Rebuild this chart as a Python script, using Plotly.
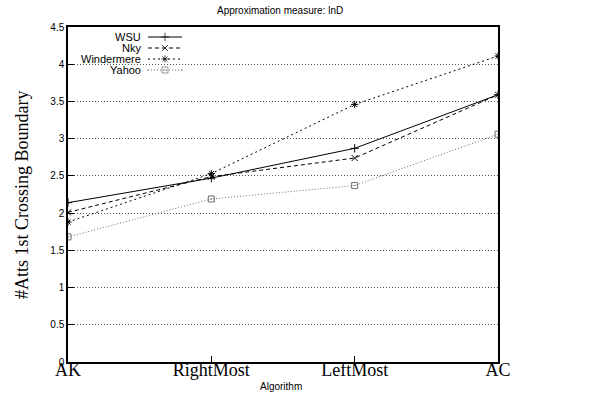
import plotly.graph_objects as go

algorithms = ["AK", "RightMost", "LeftMost", "AC"]
x_pos = [0, 1, 2, 3]
wsu = [2.14, 2.47, 2.87, 3.59]
nky = [2.01, 2.49, 2.74, 3.59]
windermere = [1.88, 2.53, 3.46, 4.11]
yahoo = [1.68, 2.19, 2.37, 3.06]
y_ticks = [0, 0.5, 1, 1.5, 2, 2.5, 3, 3.5, 4, 4.5]
y_tick_text = ["0", "0.5", "1", "1.5", "2", "2.5", "3", "3.5", "4", "4.5"]
series_names = ["WSU", "Nky", "Windermere", "Yahoo"]

# plot area in pixels
W, H = 590, 398
L, R, T, B = 68, 498, 27, 362
PW, PH = R - L, B - T


def px_x(px):
    return (px - L) / PW


def px_y(py):
    return (B - py) / PH


styles = [
    ("black", "solid", "cross-thin-open"),
    ("black", "4px,3px", "x-thin-open"),
    ("black", "2px,3px", "asterisk-open"),
    ("#6e6e6e", "1px,2px", "square-open-dot"),
]
values = [wsu, nky, windermere, yahoo]

fig = go.Figure()
for name, vals, (color, dash, sym) in zip(series_names, values, styles):
    fig.add_trace(go.Scatter(
        x=x_pos, y=vals, name=name, mode="lines+markers", showlegend=False,
        line=dict(color=color, width=1, dash=dash),
        marker=dict(symbol=sym, size=6, color=color, line=dict(color=color, width=1)),
    ))

# custom gnuplot-style key (text right-aligned, sample to the right)
row_py = [37, 48, 59, 70]
annotations = []
for i, (name, (color, dash, sym)) in enumerate(zip(series_names, styles)):
    yy = px_y(row_py[i])
    fig.add_trace(go.Scatter(
        x=[px_x(148), px_x(165), px_x(182)], y=[yy, yy, yy],
        xaxis="x2", yaxis="y2", mode="lines+markers", showlegend=False, hoverinfo="skip",
        line=dict(color=color, width=1, dash=dash),
        marker=dict(symbol=sym, size=[0, 6, 0], color=color, line=dict(color=color, width=1)),
    ))
    annotations.append(dict(
        text=name, xref="paper", yref="paper", x=px_x(143), y=yy,
        xanchor="right", yanchor="middle", showarrow=False,
        font=dict(family="Liberation Sans, Arial", size=11, color="black"),
    ))

annotations.append(dict(
    text="#Atts 1st Crossing Boundary", xref="paper", yref="paper",
    x=px_x(22), y=px_y(195), textangle=-90, showarrow=False,
    xanchor="center", yanchor="middle",
    font=dict(family="Liberation Serif, Times New Roman", size=18, color="black"),
))
annotations.append(dict(
    text="Algorithm", xref="paper", yref="paper",
    x=px_x(281), y=px_y(386), showarrow=False, xanchor="center", yanchor="middle",
    font=dict(family="Liberation Sans, Arial", size=10, color="black"),
))
annotations.append(dict(
    text="Approximation measure: lnD", xref="paper", yref="paper",
    x=px_x(280), y=px_y(10), showarrow=False, xanchor="center", yanchor="middle",
    font=dict(family="Liberation Sans, Arial", size=10, color="black"),
))

fig.update_layout(
    width=W, height=H,
    margin=dict(l=L, r=W - R, t=T, b=H - B, autoexpand=False),
    paper_bgcolor="white", plot_bgcolor="white",
    font=dict(family="Liberation Sans, Arial", size=10, color="black"),
    showlegend=False,
    annotations=annotations,
    shapes=[dict(type="rect", xref="paper", yref="paper",
                 x0=px_x(70), x1=px_x(187), y0=px_y(78), y1=px_y(29),
                 fillcolor="white", line=dict(width=0), layer="between")],
    xaxis=dict(range=[0, 3], tickvals=x_pos, ticktext=algorithms, automargin=False,
               tickfont=dict(family="Liberation Serif, Times New Roman", size=18, color="black"),
               showgrid=False, showline=True, linecolor="black", linewidth=1.5, mirror=True,
               ticks="inside", ticklen=6, tickcolor="black", ticklabelstandoff=-9,
               zeroline=False),
    yaxis=dict(range=[0, 4.5], tickvals=y_ticks, ticktext=y_tick_text, automargin=False,
               tickfont=dict(family="Liberation Sans, Arial", size=10, color="black"),
               showgrid=True, gridcolor="#555555", griddash="1px,2px", gridwidth=1,
               showline=True, linecolor="black", linewidth=1.5, mirror=True,
               ticks="inside", ticklen=6, tickcolor="black",
               zeroline=False),
    xaxis2=dict(overlaying="x", range=[0, 1], visible=False, fixedrange=True),
    yaxis2=dict(overlaying="y", range=[0, 1], visible=False, fixedrange=True),
)

fig.write_html("out.html", config={"displayModeBar": False},
               post_script="document.body.style.margin='0';")
